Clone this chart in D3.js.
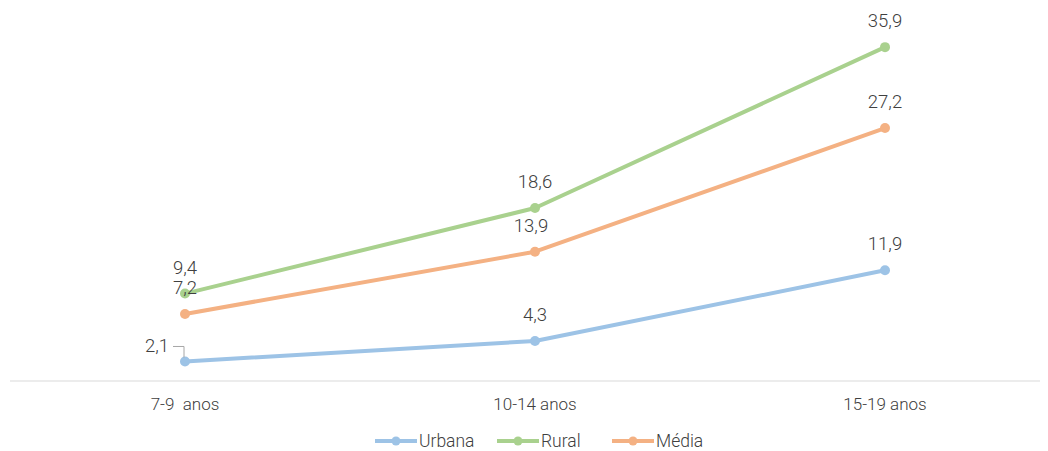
<!DOCTYPE html>
<meta charset="utf-8">
<style>
  body { margin: 0; background: white; }
  svg { font-family: Roboto, sans-serif; font-weight: 300; }
  .lbl { fill: #404040; font-size: 18.5px; }
  .tick { fill: #404040; font-size: 17px; }
</style>
<body>
</body>
<script src="https://cdn.jsdelivr.net/npm/d3@7"></script>
<script>
  const categories = ['7-9  anos', '10-14 anos', '15-19 anos'];
  const seriesNames = ['Urbana', 'Rural', 'Média'];
  const urbana = [2.1, 4.3, 11.9];
  const rural = [9.4, 18.6, 35.9];
  const media = [7.2, 13.9, 27.2];
  const colors = ['#9dc3e6', '#a9d18e', '#f4b183'];

  const w = 1048, h = 451;
  const base = 381;

  const series = [
    {name: seriesNames[0], values: urbana, color: colors[0]},
    {name: seriesNames[1], values: rural, color: colors[1]},
    {name: seriesNames[2], values: media, color: colors[2]},
  ];

  const svg = d3.select('body').append('svg')
    .attr('width', w)
    .attr('height', h);

  const x = d3.scalePoint().domain(categories).range([10, 1060]).padding(0.5);
  const y = d3.scaleLinear().domain([0, 40]).range([base, base - 372]);

  // baseline
  svg.append('line')
    .attr('x1', 10).attr('x2', 1040)
    .attr('y1', base).attr('y2', base)
    .attr('stroke', '#d9d9d9').attr('stroke-width', 1);

  // category labels
  svg.append('g').selectAll('text')
    .data(categories)
    .join('text')
    .attr('class', 'tick')
    .attr('x', d => x(d))
    .attr('y', base + 29)
    .attr('text-anchor', 'middle')
    .style('white-space', 'pre')
    .text(d => d);

  const line = d3.line()
    .x((d, i) => x(categories[i]))
    .y(d => y(d));

  const sg = svg.append('g').selectAll('g')
    .data(series)
    .join('g');

  sg.append('path')
    .attr('d', d => line(d.values))
    .attr('fill', 'none')
    .attr('stroke', d => d.color)
    .attr('stroke-width', 4)
    .attr('stroke-linejoin', 'round');

  sg.selectAll('circle')
    .data(d => d.values.map(v => ({v, c: d.color})))
    .join('circle')
    .attr('cx', (d, i) => x(categories[i]))
    .attr('cy', d => y(d.v))
    .attr('r', 5)
    .attr('fill', d => d.c);

  // data labels
  const fmt = v => v.toFixed(1).replace('.', ',');
  series.forEach((s, si) => {
    s.values.forEach((v, i) => {
      let lx = x(categories[i]), ly = y(v) - 20;
      if (si === 0 && i === 0) {
        // moved left with leader line
        lx = x(categories[i]) - 28;
        ly = y(v) - 9;
        svg.append('path')
          .attr('d', `M${lx + 16},${y(v) - 15}H${x(categories[i]) - 1}V${y(v) - 4}`)
          .attr('fill', 'none')
          .attr('stroke', '#a6a6a6')
          .attr('stroke-width', 1);
      }
      if (si === 2 && i === 1) lx -= 4;
      svg.append('text')
        .attr('class', 'lbl')
        .attr('x', lx)
        .attr('y', ly)
        .attr('text-anchor', 'middle')
        .text(fmt(v));
    });
  });

  // legend
  const legX = [375, 497, 612];
  const leg = svg.append('g').selectAll('g')
    .data(series)
    .join('g')
    .attr('transform', (d, i) => `translate(${legX[i]}, 441)`);
  leg.append('line')
    .attr('x1', 0).attr('x2', 42)
    .attr('stroke', d => d.color).attr('stroke-width', 4);
  leg.append('circle')
    .attr('cx', 21).attr('r', 4.5)
    .attr('fill', d => d.color);
  leg.append('text')
    .attr('class', 'lbl')
    .attr('x', 44).attr('y', 6)
    .style('font-size', '17.5px')
    .text(d => d.name);
</script>
